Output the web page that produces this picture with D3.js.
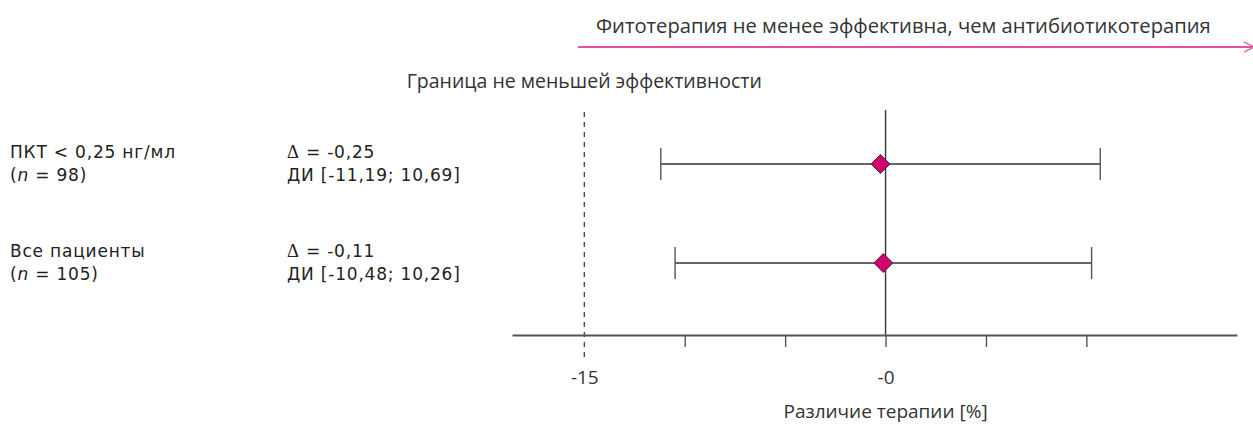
<!DOCTYPE html>
<html>
<head>
<meta charset="utf-8">
<script src="https://cdn.jsdelivr.net/npm/d3@7"></script>
<style>
  html, body { margin: 0; padding: 0; background: #fff; }
  svg { display: block; }
  .cond { font-family: "Open Sans", Roboto, sans-serif; fill: #333; font-size: 19.5px; }
  .lab { font-family: "DejaVu Sans", Verdana, sans-serif; fill: #222; font-size: 17px; letter-spacing: 0.8px; }
</style>
</head>
<body>
<svg id="chart" width="1253" height="426"></svg>
<script>
// Subgroups and their labels
const groups = ["ПКТ < 0,25 нг/мл", "Все пациенты"];
const groupN = ["98", "105"];
// Treatment difference (percentage points) with 95% CI
const deltas = [-0.25, -0.11];
const ciLow = [-11.19, -10.48];
const ciHigh = [10.69, 10.26];
const deltaText = ["-0,25", "-0,11"];
const ciText = ["[-11,19; 10,69]", "[-10,48; 10,26]"];
// Axis ticks
const tickValues = [-15, -10, -5, 0, 5, 10];
const tickLabels = ["-15", "", "", "-0", "", ""];
const margin = -15; // non-inferiority margin
const xDomain = [-18.6, 17.5];

const svg = d3.select("#chart");
const x = d3.scaleLinear().domain(xDomain).range([512, 1237]);
const y = d3.scalePoint().domain(groups).range([164, 263]);
const axisY = 335;

// Direction arrow and caption
svg.append("text").attr("class", "cond")
  .attr("x", 596).attr("y", 33).style("font-size", "20.2px")
  .text("Фитотерапия не менее эффективна, чем антибиотикотерапия");
svg.append("line")
  .attr("x1", 578).attr("x2", 1252).attr("y1", 47).attr("y2", 47)
  .attr("stroke", "#e0559e").attr("stroke-width", 1.8);
svg.append("path")
  .attr("d", "M1244,42 L1254,47 L1244,52")
  .attr("fill", "none").attr("stroke", "#e0559e").attr("stroke-width", 1.2);

// Margin caption
svg.append("text").attr("class", "cond")
  .attr("x", x(margin)).attr("y", 88).attr("text-anchor", "middle")
  .text("Граница не меньшей эффективности");

// Margin line (dashed) and zero line
svg.append("line")
  .attr("x1", x(margin)).attr("x2", x(margin)).attr("y1", 112).attr("y2", 362)
  .attr("stroke", "#333").attr("stroke-width", 1.2).attr("stroke-dasharray", "5,5");
svg.append("line")
  .attr("x1", x(0)).attr("x2", x(0)).attr("y1", 110).attr("y2", axisY)
  .attr("stroke", "#333").attr("stroke-width", 1.4);

// Axis
const axis = d3.axisBottom(x)
  .tickValues(tickValues)
  .tickSize(12).tickSizeOuter(0).tickPadding(24)
  .tickFormat((d, i) => tickLabels[i]);
const gAxis = svg.append("g").attr("transform", `translate(0,${axisY})`).call(axis);
gAxis.select(".domain").attr("stroke", "#555").attr("stroke-width", 2);
gAxis.selectAll(".tick line").attr("stroke", "#555").attr("stroke-width", 1.4)
  .filter(d => d === margin).remove();
gAxis.selectAll(".tick text")
  .attr("class", "cond").attr("fill", "#333")
  .style("font-size", "19px").style("font-family", "'Open Sans', sans-serif");

svg.append("text").attr("class", "cond")
  .attr("x", x(0)).attr("y", 418).attr("text-anchor", "middle").style("font-size", "19px")
  .text("Различие терапии [%]");

// Confidence intervals
const rows = groups.map((g, i) => ({ g, i }));
const capH = 16;
const ci = svg.append("g").selectAll("g").data(rows).join("g");
ci.append("line")
  .attr("x1", d => x(ciLow[d.i])).attr("x2", d => x(ciHigh[d.i]))
  .attr("y1", d => y(d.g)).attr("y2", d => y(d.g))
  .attr("stroke", "#333").attr("stroke-width", 1.4);
ci.append("line")
  .attr("x1", d => x(ciLow[d.i])).attr("x2", d => x(ciLow[d.i]))
  .attr("y1", d => y(d.g) - capH).attr("y2", d => y(d.g) + capH)
  .attr("stroke", "#555").attr("stroke-width", 1.4);
ci.append("line")
  .attr("x1", d => x(ciHigh[d.i])).attr("x2", d => x(ciHigh[d.i]))
  .attr("y1", d => y(d.g) - capH).attr("y2", d => y(d.g) + capH)
  .attr("stroke", "#555").attr("stroke-width", 1.4);

// Point estimates
const dSize = 9.5;
ci.append("path")
  .attr("d", d => {
    const cx = x(deltas[d.i]), cy = y(d.g);
    return `M${cx},${cy - dSize}L${cx + dSize},${cy}L${cx},${cy + dSize}L${cx - dSize},${cy}Z`;
  })
  .attr("fill", "#d5006f").attr("stroke", "#333").attr("stroke-width", 1);

// Row labels
const labels = svg.append("g").selectAll("g").data(rows).join("g");
labels.append("text").attr("class", "lab")
  .attr("x", 10).attr("y", d => y(d.g) - 6).text(d => d.g);
const nText = labels.append("text").attr("class", "lab")
  .attr("x", 10).attr("y", d => y(d.g) + 17);
nText.append("tspan").text("(");
nText.append("tspan").style("font-style", "italic").text("n");
nText.append("tspan").text(d => " = " + groupN[d.i] + ")");

const dt = labels.append("text").attr("class", "lab")
  .attr("x", 287).attr("y", d => y(d.g) - 6);
dt.append("tspan").style("font-family", "'Liberation Serif', serif").style("font-size", "18.5px").text("Δ");
dt.append("tspan").text(d => " = " + deltaText[d.i]);
labels.append("text").attr("class", "lab")
  .attr("x", 287).attr("y", d => y(d.g) + 17).text(d => "ДИ " + ciText[d.i]);
</script>
</body>
</html>
